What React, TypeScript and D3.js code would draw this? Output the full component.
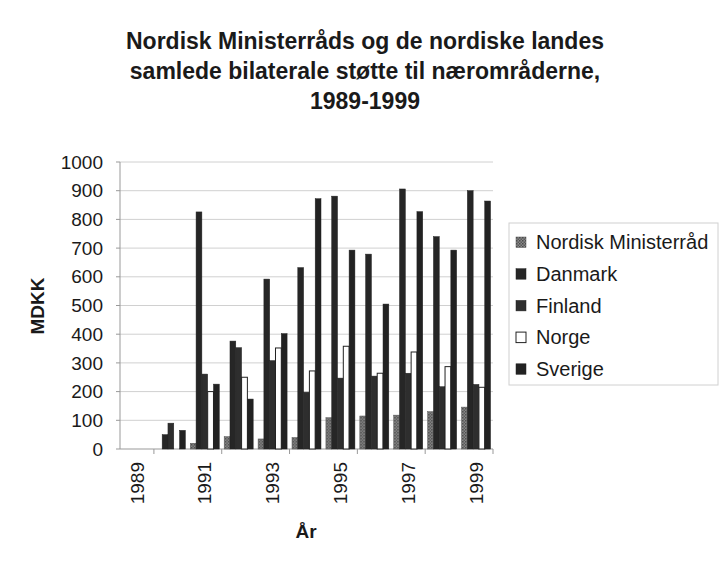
import React from "react";
import * as d3 from "d3";

const years = ["1989","1990","1991","1992","1993","1994","1995","1996","1997","1998","1999"];
const tickYears = ["1989","1991","1993","1995","1997","1999"];
const seriesNames = ["Nordisk Ministerråd","Danmark","Finland","Norge","Sverige"];
const nordiskMinisterraad = [0, 0, 20, 43, 35, 40, 109, 115, 118, 130, 146];
const danmark = [0, 50, 826, 376, 592, 632, 881, 679, 906, 740, 900];
const finland = [0, 90, 261, 353, 308, 198, 247, 254, 264, 217, 225];
const norge = [0, 0, 200, 250, 352, 272, 358, 264, 338, 287, 215];
const sverige = [0, 65, 226, 174, 402, 872, 693, 505, 827, 693, 864];
const yTicks = [0,100,200,300,400,500,600,700,800,900,1000];
const titleLines = ["Nordisk Ministerråds og de nordiske landes","samlede bilaterale støtte til nærområderne,","1989-1999"];

const seriesValues = [nordiskMinisterraad, danmark, finland, norge, sverige];
const fills = ["url(#nmPattern)", "#262626", "#2e2e2e", "#ffffff", "#222222"];
const strokes = ["#555", "#222", "#222", "#222", "#222"];

const FONT = "'Liberation Sans', Arial, sans-serif";

export default function App() {
  const left = 120, right = 493, top = 162, bottom = 449;
  const x0 = d3.scaleBand<string>().domain(years).range([left, right]).padding(0);
  const bw = x0.bandwidth();
  const gap = bw * 0.145;
  const x1 = d3.scaleBand<string>().domain(seriesNames).range([gap / 2, bw - gap / 2]).padding(0);
  const y = d3.scaleLinear().domain([0, 1000]).range([bottom, top]);

  const boundaryTicks = [1, 3, 5, 7, 9, 11].map(i => left + i * bw);

  return (
    <svg width={719} height={561} style={{ position: "absolute", left: 0, top: 0, background: "#fff" }} fontFamily={FONT}>
      <defs>
        <pattern id="nmPattern" width={3} height={3} patternUnits="userSpaceOnUse">
          <rect width={3} height={3} fill="#8a8a8a" />
          <rect width={1.5} height={1.5} fill="#4a4a4a" />
          <rect x={1.5} y={1.5} width={1.5} height={1.5} fill="#5a5a5a" />
        </pattern>
      </defs>
      <rect width={719} height={561} fill="#fff" />
      {titleLines.map((t, i) => (
        <text key={i} x={365} y={49 + i * 30} textAnchor="middle" fontSize={23} fontWeight="bold" fill="#1a1a1a">{t}</text>
      ))}
      {yTicks.slice(1).map(v => (
        <line key={v} x1={left} x2={right} y1={y(v)} y2={y(v)} stroke="#d0d0d0" strokeWidth={1} />
      ))}
      <line x1={left} x2={left} y1={top} y2={bottom} stroke="#999" />
      <line x1={left} x2={right} y1={bottom} y2={bottom} stroke="#999" />
      {yTicks.map(v => (
        <g key={v}>
          <line x1={left - 4} x2={left} y1={y(v)} y2={y(v)} stroke="#999" />
          <text x={103} y={y(v)} dy="0.35em" textAnchor="end" fontSize={19} fill="#1a1a1a">{v}</text>
        </g>
      ))}
      {boundaryTicks.map((bx, i) => (
        <line key={i} x1={bx} x2={bx} y1={bottom} y2={bottom + 5} stroke="#999" />
      ))}
      {years.map((yr, i) => (
        <g key={yr} transform={`translate(${x0(yr)},0)`}>
          {seriesNames.map((s, k) => {
            const v = seriesValues[k][i];
            if (v <= 0) return null;
            return (
              <rect key={s} x={x1(s)} y={y(v)} width={x1.bandwidth()} height={y(0) - y(v)}
                fill={fills[k]} stroke={strokes[k]} strokeWidth={k === 3 ? 1 : 0.5} />
            );
          })}
        </g>
      ))}
      {tickYears.map(yr => {
        const cx = (x0(yr) as number) + bw / 2;
        return (
          <text key={yr} transform={`translate(${cx},462) rotate(-90)`} textAnchor="end" dy="0.35em" fontSize={19} fill="#1a1a1a">{yr}</text>
        );
      })}
      <text x={306} y={538} textAnchor="middle" fontSize={19} fontWeight="bold" fill="#1a1a1a">År</text>
      <text transform={`translate(37,${306}) rotate(-90)`} textAnchor="middle" dy="0.35em" fontSize={19} fontWeight="bold" fill="#1a1a1a">MDKK</text>
      <rect x={509} y={223} width={209} height={162} fill="#fff" stroke="#d0d0d0" />
      {seriesNames.map((s, k) => {
        const cy = 242 + k * 31.7;
        return (
          <g key={s}>
            <rect x={516} y={cy - 5} width={10} height={10.5} fill={fills[k]} stroke={strokes[k]} strokeWidth={k === 3 ? 1 : 0.5} />
            <text x={536} y={cy} dy="0.36em" fontSize={20} fill="#1a1a1a">{s}</text>
          </g>
        );
      })}
    </svg>
  );
}
